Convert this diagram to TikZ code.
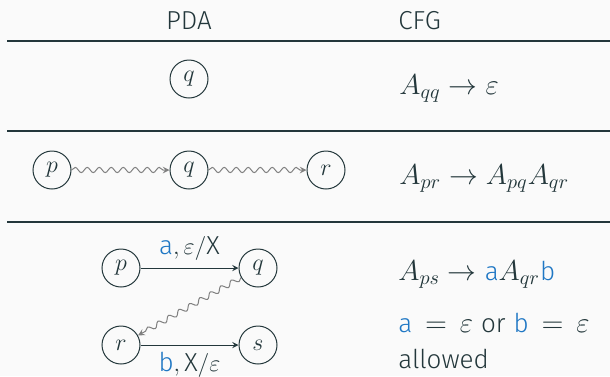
\documentclass[tikz,border=0pt]{standalone}
\usepackage{amsmath}
\usepackage{xcolor}
\usepackage{fontspec}
\setmainfont{Fira Sans}[UprightFont=* Light]
\setsansfont{Fira Sans}[UprightFont=* Light]
\usepackage{tikz}
\usetikzlibrary{arrows,positioning}
\usetikzlibrary{decorations.pathmorphing}
\definecolor{bgcol}{HTML}{FAFAFA}
\definecolor{darkteal}{HTML}{23373B}
\definecolor{tblue}{HTML}{1F77C4}
\newcommand{\syma}[0]{\textcolor{tblue}{\textsf{\fontsize{13}{18}\selectfont a}}}
\newcommand{\symb}[0]{\textcolor{tblue}{\textsf{\fontsize{13}{18}\selectfont b}}}
\newcommand{\mfont}[0]{\fontsize{14.5}{18}\selectfont}

\begin{document}
\begin{tikzpicture}[x=0.5pt,y=-0.5pt,color=darkteal,
                    font=\fontsize{13}{18}\selectfont,
                    st/.style={circle,draw,minimum size=19pt,inner sep=0pt,line width=0.5pt},
                    txt/.style={inner sep=0pt,anchor=base west},
                    rule/.style={line width=0.6pt},
                    wavy/.style={-stealth,gray,line width=0.5pt,decorate,
                        decoration={snake,amplitude=1.3pt,segment length=6pt,post length=3pt}},
                    node distance=49pt]
    \useasboundingbox[fill=bgcol] (0,0) rectangle (610,376);

    \node[txt,anchor=base] (pda) at (189,29) {PDA};
    \node[txt] (cfg) at (398,29) {CFG};
    \draw[rule] (7,41) -- (610,41);

    \node[st] (q1) at (189,79) {$q$};
    \node[txt,font=\mfont] (c1) at (399,94) {$A_{qq} \to \varepsilon$};
    \draw[rule] (7,131) -- (610,131);

    \node[st] (p2) at (52,170) {$p$};
    \node[st,right=of p2] (q2) {$q$};
    \node[st,right=of q2] (r2) {$r$};
    \draw[wavy] (p2) -- (q2);
    \draw[wavy] (q2) -- (r2);
    \node[txt,font=\mfont] (c2) at (399,184) {$A_{pr} \to A_{pq}A_{qr}$};
    \draw[rule] (7,222) -- (610,222);

    \node[st] (p3) at (121,268) {$p$};
    \node[st,right=of p3] (q3) {$q$};
    \node[st,below=19pt of p3] (r3) {$r$};
    \node[st,right=of r3] (s3) {$s$};
    \draw[-stealth] (p3) -- node[above] {$\syma, \varepsilon/\textsf{X}$} (q3);
    \draw[-stealth] (r3) -- node[below] {$\symb, \textsf{X}/\varepsilon$} (s3);
    \draw[wavy] (q3) -- (r3);
    \node[txt,font=\mfont] (c3) at (398,280) {$A_{ps} \to \syma A_{qr}\symb$};
    \node[txt,align=left] (n3) at (398,368)
        {{\mfont$\syma \,=\, \varepsilon$}\hspace{4pt}or\hspace{4pt}{\mfont$\symb \,=\, \varepsilon$}\\allowed};
\end{tikzpicture}
\end{document}
